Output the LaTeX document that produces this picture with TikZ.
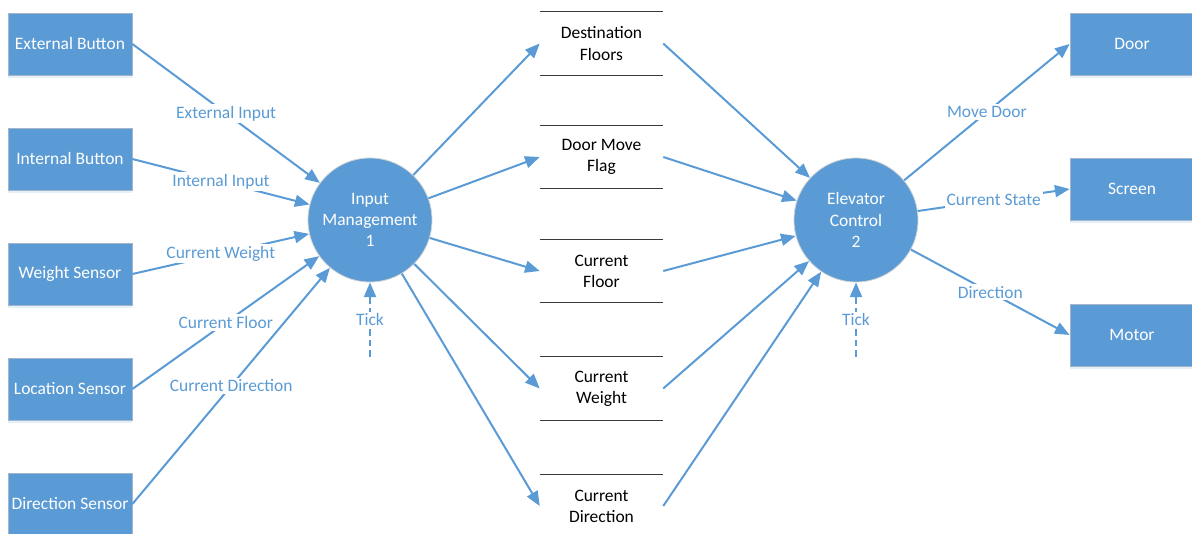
\documentclass[tikz,border=0pt]{standalone}
\usepackage{fontspec}
\setmainfont{Carlito}
\usetikzlibrary{arrows.meta,shadows}
\definecolor{dfdblue}{HTML}{5B9BD5}
\definecolor{boxedge}{RGB}{165,182,204}
\definecolor{storeline}{HTML}{3A3A3A}
\begin{document}
\begin{tikzpicture}[x=0.75pt,y=-0.75pt,
  font=\fontsize{13.1}{15.8}\selectfont,
  entity/.style={rectangle, fill=dfdblue, draw=boxedge, line width=0.6pt,
    minimum width=93pt, minimum height=46.5pt, inner sep=0pt, text=white,
    drop shadow={shadow xshift=0pt, shadow yshift=-2.5pt, opacity=0.25, fill=dfdblue!60}},
  process/.style={circle, fill=dfdblue, draw=gray!35, line width=0.6pt,
    minimum size=93pt, inner sep=0pt, text=white, align=center},
  store/.style={rectangle, minimum width=92.25pt, minimum height=47pt,
    inner sep=0pt, align=center},
  storelines/.style={draw=storeline, line width=0.8pt},
  flow/.style={draw=dfdblue, line width=1.5pt, -{Triangle[length=11pt,width=9pt]}},
  lbl/.style={fill=white, text=dfdblue, inner sep=1.5pt, pos=0.5}]

\useasboundingbox (0,0) rectangle (1192,534);

% external entities on the left
\node[entity] (ext) at (70,44)  {External Button};
\node[entity] (int) at (70,159) {Internal Button};
\node[entity] (wgt) at (70,274) {Weight Sensor};
\node[entity] (loc) at (70,389) {Location Sensor};
\node[entity] (dir) at (70,504) {Direction Sensor};

% processes
\node[process] (im) at (370,220) {Input\\Management\\1};
\node[process] (ec) at (856,220) {Elevator\\Control\\2};

% data stores
\node[store] (df) at (601.5,43.5) {Destination\\Floors};
\node[store] (dm) at (601.5,157)  {Door Move\\Flag};
\node[store] (cf) at (601.5,271)  {Current\\Floor};
\node[store] (cw) at (601.5,388.5){Current\\Weight};
\node[store] (cd) at (601.5,506)  {Current\\Direction};
\foreach \s in {df,dm,cf,cw,cd}{
  \draw[storelines] (\s.north west) -- (\s.north east)
                    (\s.south west) -- (\s.south east);
}

% external entities on the right
\node[entity] (door)   at (1132,44)  {Door};
\node[entity] (screen) at (1132,189) {Screen};
\node[entity] (motor)  at (1132,335) {Motor};

% timer triggers
\coordinate (t1) at (370,357);
\coordinate (t2) at (856,357);

% inputs to process 1
\draw[flow] (ext.east) -- (im) node[lbl]{External Input};
\draw[flow] (int.east) -- (im) node[lbl]{Internal Input};
\draw[flow] (wgt.east) -- (im) node[lbl]{Current Weight};
\draw[flow] (loc.east) -- (im) node[lbl, pos=0.5]{Current Floor};
\draw[flow] (dir.east) -- (im) node[lbl]{Current Direction};
\draw[flow, dash pattern=on 5pt off 3pt] (t1) -- (im) node[lbl]{Tick};

% process 1 writes the stores
\draw[flow] (im) -- (df.west);
\draw[flow] (im) -- (dm.west);
\draw[flow] (im) -- (cf.west);
\draw[flow] (im) -- (cw.west);
\draw[flow] (im) -- (cd.west);

% process 2 reads the stores
\draw[flow] (df.east) -- (ec);
\draw[flow] (dm.east) -- (ec);
\draw[flow] (cf.east) -- (ec);
\draw[flow] (cw.east) -- (ec);
\draw[flow] (cd.east) -- (ec);
\draw[flow, dash pattern=on 5pt off 3pt] (t2) -- (ec) node[lbl]{Tick};

% outputs of process 2
\draw[flow] (ec) -- (door.west)   node[lbl]{Move Door};
\draw[flow] (ec) -- (screen.west) node[lbl]{Current State};
\draw[flow] (ec) -- (motor.west)  node[lbl]{Direction};
\end{tikzpicture}
\end{document}
